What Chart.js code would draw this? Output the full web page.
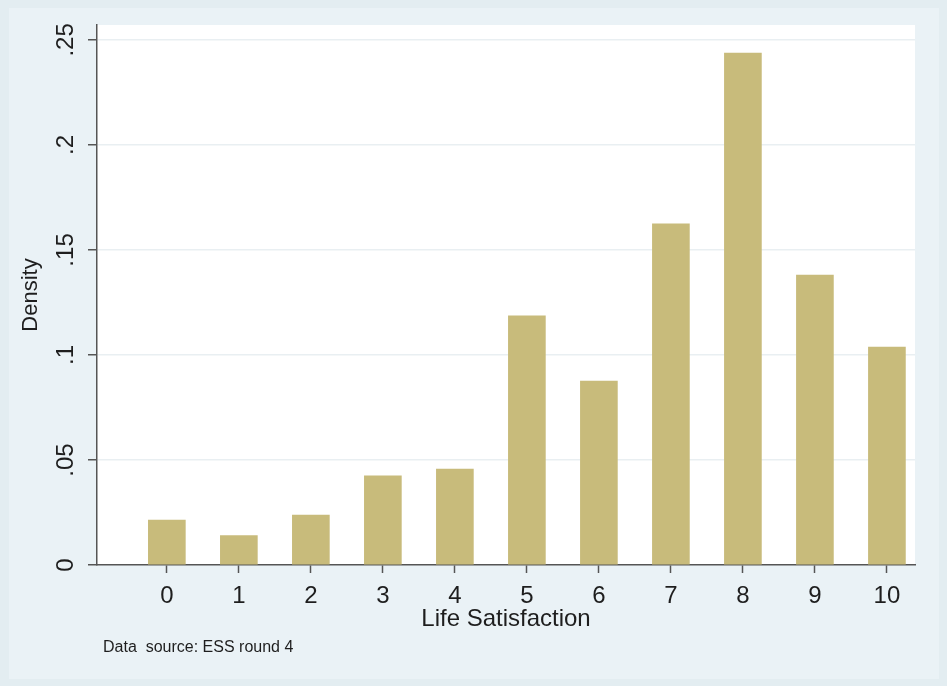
<!DOCTYPE html>
<html>
<head>
<meta charset="utf-8">
<script src="https://cdn.jsdelivr.net/npm/chart.js@4.4.1/dist/chart.umd.min.js"></script>
<style>
  html, body { margin: 0; padding: 0; background: #e6eff3; }
  #wrap { width: 947px; height: 686px; position: relative; }
</style>
</head>
<body>
<div id="wrap"><canvas id="chart" width="947" height="686"></canvas></div>
<script>
// life satisfaction histogram (ESS round 4)
var categories = [0, 1, 2, 3, 4, 5, 6, 7, 8, 9, 10];
var density = [0.0214, 0.0140, 0.0238, 0.0425, 0.0457, 0.1186, 0.0876, 0.1624, 0.2437, 0.1380, 0.1038];
var yTicks = [0, 0.05, 0.1, 0.15, 0.2, 0.25];
var yTickLabels = ['0', '.05', '.1', '.15', '.2', '.25'];
var sourceNote = 'Data  source: ESS round 4';

var barColor = '#c8bb7b';
var axisColor = '#555555';
var textColor = '#1e1e1e';
var fontFamily = '"Liberation Sans", Arial, sans-serif';

//
// paints the light blue frame and the white plot region
//
var backgroundPlugin = {
  id: 'backgrounds',
  beforeDraw: function (chart) {
    var ctx = chart.ctx;
    var area = chart.chartArea;
    ctx.save();
    ctx.fillStyle = '#e3edf1';
    ctx.fillRect(0, 0, chart.width, chart.height);
    ctx.fillStyle = '#eaf2f6';
    ctx.fillRect(9, 8, chart.width - 17, chart.height - 15);
    ctx.fillStyle = '#ffffff';
    ctx.fillRect(area.left, area.top, area.right - area.left, area.bottom - area.top);
    ctx.restore();
  },
  afterDraw: function (chart) {
    var ctx = chart.ctx;
    ctx.save();
    ctx.fillStyle = textColor;
    ctx.font = '16px ' + fontFamily;
    ctx.textBaseline = 'middle';
    ctx.textAlign = 'left';
    ctx.fillText(sourceNote, 103, 648);
    ctx.restore();
  }
};

var points = categories.map(function (c, i) {
  return { x: c, y: density[i] };
});

new Chart(document.getElementById('chart'), {
  type: 'bar',
  data: {
    datasets: [{
      data: points,
      backgroundColor: barColor,
      borderWidth: 0,
      barThickness: 37
    }]
  },
  options: {
    responsive: false,
    animation: false,
    layout: { padding: { top: 25, right: 32, left: 0, bottom: 0 } },
    plugins: {
      legend: { display: false },
      tooltip: { enabled: false }
    },
    scales: {
      x: {
        type: 'linear',
        offset: false,
        min: -0.97,
        max: 10.39,
        afterFit: function (scale) { scale.height = 121; },
        afterBuildTicks: function (scale) {
          scale.ticks = categories.map(function (c) { return { value: c }; });
        },
        grid: {
          offset: false,
          drawOnChartArea: false,
          drawTicks: true,
          tickLength: 8,
          tickColor: axisColor,
          tickWidth: 1.5
        },
        border: { color: axisColor, width: 1.5 },
        ticks: {
          color: textColor,
          font: { size: 24, family: fontFamily },
          padding: 9,
          maxRotation: 0,
          callback: function (v) { return String(v); }
        },
        title: {
          display: true,
          text: 'Life Satisfaction',
          color: textColor,
          font: { size: 24, family: fontFamily },
          padding: { top: 0, bottom: 52 }
        }
      },
      y: {
        min: 0,
        max: 0.2571,
        afterFit: function (scale) { scale.width = 97; },
        afterBuildTicks: function (scale) {
          scale.ticks = yTicks.map(function (v) { return { value: v }; });
        },
        grid: {
          color: function (c) { return c.tick && c.tick.value === 0 ? 'rgba(0,0,0,0)' : '#e9eff2'; },
          lineWidth: 1.5,
          drawTicks: true,
          tickLength: 9,
          tickColor: axisColor,
          tickWidth: 1.5
        },
        border: { color: axisColor, width: 1.5 },
        ticks: {
          color: textColor,
          font: { size: 24, family: fontFamily },
          padding: 5,
          minRotation: 90,
          maxRotation: 90,
          crossAlign: 'center',
          callback: function (v) {
            var i = yTicks.indexOf(v);
            return i >= 0 ? yTickLabels[i] : '';
          }
        },
        title: {
          display: true,
          text: 'Density',
          color: textColor,
          font: { size: 22, family: fontFamily },
          padding: { top: 18, bottom: 0 }
        }
      }
    }
  },
  plugins: [backgroundPlugin]
});
</script>
</body>
</html>
